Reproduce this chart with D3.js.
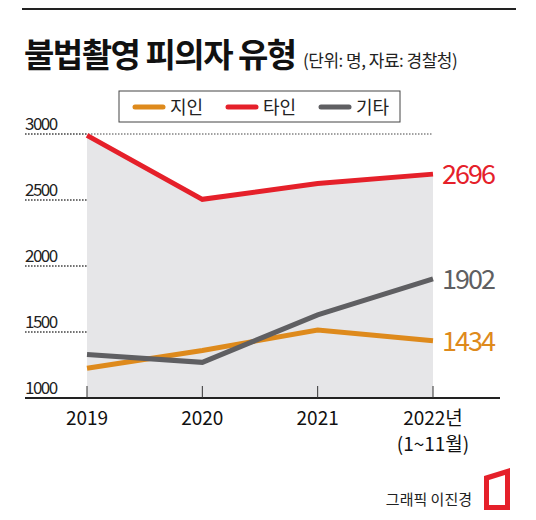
<!DOCTYPE html><html><head><meta charset="utf-8"><script src="https://cdn.jsdelivr.net/npm/d3@7"></script>
<style>body{margin:0;background:#fff}text{font-family:"Noto Sans CJK KR","Noto Sans",sans-serif}</style></head><body><svg id="c" width="536" height="520"></svg><script>
const years=["2019","2020","2021","2022"];
const acquaint=[1225,1360,1515,1434];
const stranger=[2990,2505,2625,2696];
const other=[1330,1270,1630,1902];
const yTicks=[1000,1500,2000,2500,3000];
const series=[{name:"지인",v:acquaint,c:"#de8a1c"},{name:"타인",v:stranger,c:"#e5202a"},{name:"기타",v:other,c:"#5f5f62"}];
const svg=d3.select("#c");
svg.append("rect").attr("x",22).attr("y",8).attr("width",494).attr("height",2).attr("fill","#222");
const t=svg.append("text").attr("x",24).attr("y",67);
t.append("tspan").text("불법촬영 피의자 유형").attr("font-size",33).attr("font-weight",700).attr("fill","#111").attr("letter-spacing",-1.5);
t.append("tspan").text(" (단위: 명, 자료: 경찰청)").attr("font-size",17).attr("fill","#222").attr("dx",4).attr("letter-spacing",-0.5);
const x=d3.scalePoint().domain(years).range([87,433]);
const y=d3.scaleLinear().domain([1000,3000]).range([398,134]);
yTicks.slice(1).forEach(v=>svg.append("line").attr("x1",25).attr("x2",433).attr("y1",y(v)).attr("y2",y(v)).attr("stroke","#444").attr("stroke-dasharray","1.5,1.5"));
svg.append("path").datum(stranger).attr("fill","#e6e6e8").attr("d",d3.area().x((d,i)=>x(years[i])).y0(y(1000)).y1(d=>y(d)));
yTicks.slice(1).forEach(v=>svg.append("line").attr("x1",25).attr("x2",87).attr("y1",y(v)).attr("y2",y(v)).attr("stroke","#444").attr("stroke-dasharray","1.5,1.5"));
yTicks.forEach(v=>svg.append("text").attr("x",25).attr("y",y(v)-4).text(v).attr("font-size",17).attr("fill","#222").attr("letter-spacing",-1.5));
svg.append("line").attr("x1",25).attr("x2",500).attr("y1",398).attr("y2",398).attr("stroke","#222").attr("stroke-width",2);
years.forEach(yr=>svg.append("line").attr("x1",x(yr)).attr("x2",x(yr)).attr("y1",386).attr("y2",398).attr("stroke","#333"));
const xl=["2019","2020","2021","2022년"];
years.forEach((yr,i)=>svg.append("text").attr("x",x(yr)).attr("y",425).attr("text-anchor","middle").attr("font-size",19).attr("fill","#111").text(xl[i]));
svg.append("text").attr("x",x("2022")).attr("y",451).attr("text-anchor","middle").attr("font-size",19).attr("fill","#111").text("(1~11월)");
const line=d3.line().x((d,i)=>x(years[i])).y(d=>y(d));
[series[0],series[2],series[1]].forEach(s=>{
svg.append("path").datum(s.v).attr("fill","none").attr("stroke",s.c).attr("stroke-width",5).attr("d",line);
svg.append("text").attr("x",x("2022")+9).attr("y",y(s.v[3])+10).attr("font-size",27).attr("fill",s.c).attr("letter-spacing",-2).text(s.v[3]);});
svg.append("rect").attr("x",119).attr("y",91).attr("width",281).attr("height",31).attr("fill","#fff").attr("stroke","#444");
series.forEach((s,i)=>{const lx=135+i*93;
svg.append("line").attr("x1",lx).attr("x2",lx+28).attr("y1",107).attr("y2",107).attr("stroke",s.c).attr("stroke-width",5).attr("stroke-linecap","round");
svg.append("text").attr("x",lx+35).attr("y",114).attr("font-size",18).attr("fill","#222").text(s.name);});
svg.append("text").attr("x",472).attr("y",505).attr("text-anchor","end").attr("font-size",15).attr("fill","#222").text("그래픽 이진경");
svg.append("path").attr("d","M484,476 L510,468 L510,510 L484,510 Z M489,480 L489,505 L505,505 L505,475 Z").attr("fill","#e5202a").attr("fill-rule","evenodd");
</script></body></html>
